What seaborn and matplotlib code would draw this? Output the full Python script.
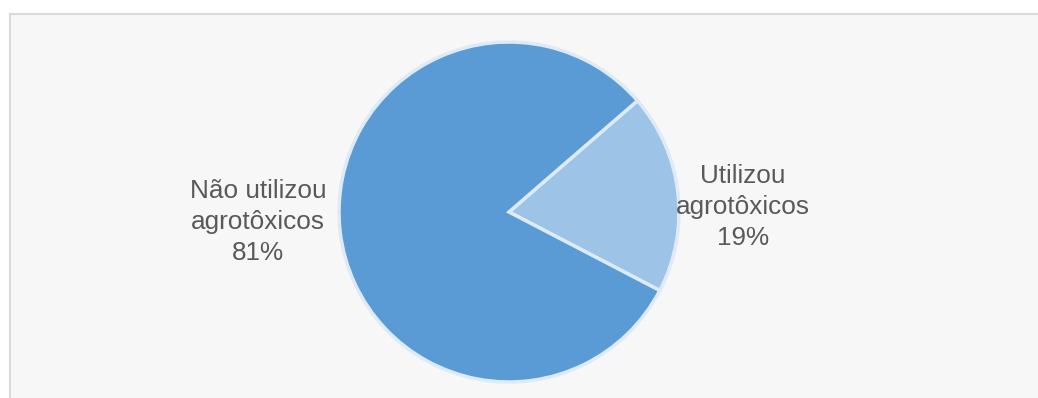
import matplotlib
matplotlib.use("Agg")
import matplotlib.pyplot as plt
import seaborn as sns
from matplotlib.patches import Rectangle

# data
categories = ["Utilizou\nagrotôxicos", "Não utilizou\nagrotôxicos"]
shares = [19, 81]
slice_colors = ["#9dc3e6", "#5b9bd5"]


def main():
    sns.set_theme(style="white")
    plt.rcParams['font.family'] = ['Liberation Sans', 'DejaVu Sans']

    fig = plt.figure(figsize=(10.38, 3.98), dpi=100)
    fig.patch.set_facecolor("white")

    # chart area background with light border (left/top visible)
    bg = Rectangle((10 / 1038, -0.1), 1.2, (398 - 14) / 398 + 0.1, transform=fig.transFigure,
                   facecolor="#f7f7f7", edgecolor="#d9d9d9", linewidth=1.5, zorder=-5)
    fig.patches.append(bg)

    ax = fig.add_axes([339 / 1038, 16 / 398, 340 / 1038, 340 / 398])
    ax.set_zorder(2)
    ax.set_facecolor("none")
    ax.pie(shares, colors=slice_colors, startangle=40.9, counterclock=False,
           wedgeprops=dict(edgecolor="#deebf7", linewidth=2.5, clip_on=False))
    ax.set_xlim(-1, 1)
    ax.set_ylim(-1, 1)
    ax.set_aspect("equal")
    ax.axis("off")

    # labels
    txt = dict(ha="center", va="center", fontsize=18.8, color="#595959",
               linespacing=1.37, clip_on=False)
    ax.text(-1.476, -0.06, f"{categories[1]}\n{shares[1]}%", **txt)
    ax.text(1.376, 0.03, f"{categories[0]}\n{shares[0]}%", **txt)

    fig.savefig("out.png", dpi=100)


main()
